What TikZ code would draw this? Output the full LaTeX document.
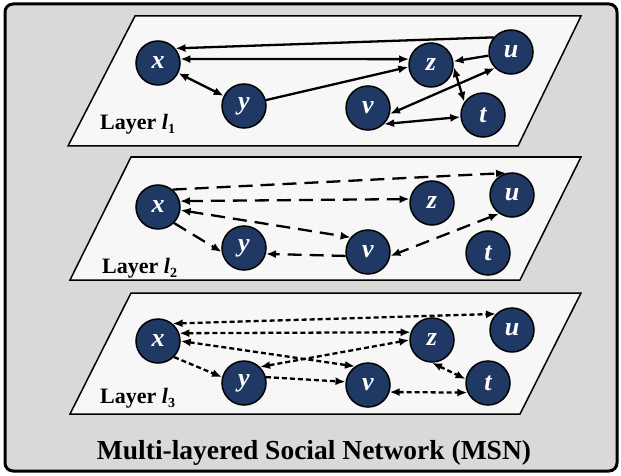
\documentclass[tikz,border=0pt]{standalone}
\usepackage{fontspec}
\setmainfont{Liberation Serif}
\usetikzlibrary{arrows.meta}
\definecolor{nodeblue}{RGB}{31,56,100}
\definecolor{framegray}{RGB}{217,217,217}
\definecolor{layerwhite}{RGB}{247,247,247}
\newcommand{\layerof}[1]{Layer \textit{l}\raisebox{-4pt}{\fontsize{14}{14}\selectfont #1}}
\tikzset{
    user/.style={circle, draw=black, line width=1.5pt, fill=nodeblue, minimum size=44pt, inner sep=0pt,
        text=white, font=\fontsize{26}{26}\selectfont\bfseries\itshape},
    plane/.style={draw=black, line width=1.5pt, fill=layerwhite},
    link/.style={line width=2.3pt, >={Latex[length=10pt,width=8pt]}},
    dashlink/.style={link, dash pattern=on 14pt off 8pt},
    dotlink/.style={link, dash pattern=on 5pt off 3pt},
    layername/.style={anchor=base west, inner sep=0pt, font=\fontsize{22}{22}\selectfont\bfseries},
}
\begin{document}
\begin{tikzpicture}[x=1pt, y=-1pt]
    \useasboundingbox (0, 0) rectangle (621, 476);
    \draw[rounded corners=8pt, line width=3pt, fill=framegray] (5, 4) rectangle (617, 471);
    % layer planes
    \draw[plane] (135, 16) -- (581, 16) -- (518, 146) -- (68, 146) -- cycle;
    \draw[plane] (131, 157) -- (581, 157) -- (520, 280) -- (70, 280) -- cycle;
    \draw[plane] (131, 293) -- (581, 293) -- (520, 414) -- (70, 414) -- cycle;
    \node[layername] (name1) at (100, 130) {\layerof{1}};
    \node[layername] (name2) at (102, 273) {\layerof{2}};
    \node[layername] (name3) at (100, 403) {\layerof{3}};

    % layer 1
    \node[user] (x1) at (158, 63) {x};
    \node[user] (y1) at (244, 106) {y};
    \node[user] (z1) at (431, 65) {z};
    \node[user] (u1) at (511, 52) {u};
    \node[user] (v1) at (368, 108) {v};
    \node[user] (t1) at (483, 115) {t};
    \draw[link, ->] (u1.140) -- (x1.40);
    \draw[link, <->] (x1.10) -- (z1.165);
    \draw[link, <->] (x1) -- (y1);
    \draw[link, ->] (y1.15) -- (z1.185);
    \draw[link, ->] (u1) -- (z1);
    \draw[link, <->] (z1.-5) -- (t1.145);
    \draw[link, <->] (u1.225) -- (v1.-15);
    \draw[link, <->] (v1.-45) -- (t1.185);

    % layer 2
    \node[user] (x2) at (158, 207) {x};
    \node[user] (y2) at (244, 248) {y};
    \node[user] (z2) at (432, 203) {z};
    \node[user] (u2) at (512, 195) {u};
    \node[user] (v2) at (368, 252) {v};
    \node[user] (t2) at (488, 253) {t};
    \draw[dashlink, ->] (x2.50) -- (u2.105);
    \draw[dashlink, <->] (x2.15) -- (z2.170);
    \draw[dashlink, <->] (x2.-8) -- (v2.140);
    \draw[dashlink, ->] (x2.-45) -- (y2.190);
    \draw[dashlink, ->] (v2.190) -- (y2.-15);
    \draw[dashlink, <->] (u2.235) -- (v2.-10);

    % layer 3
    \node[user] (x3) at (158, 341) {x};
    \node[user] (y3) at (244, 383) {y};
    \node[user] (z3) at (432, 340) {z};
    \node[user] (u3) at (512, 330) {u};
    \node[user] (v3) at (368, 385) {v};
    \node[user] (t3) at (488, 383) {t};
    \draw[dotlink, <->] (x3.50) -- (u3.135);
    \draw[dotlink, <->] (x3.20) -- (z3.160);
    \draw[dotlink, <->] (x3.0) -- (v3.125);
    \draw[dotlink, <->] (z3.180) -- (y3.45);
    \draw[dotlink, ->] (x3.-45) -- (y3.165);
    \draw[dotlink, ->] (y3.15) -- (v3.172);
    \draw[dotlink, <->] (z3.-90) -- (t3.170);
    \draw[dotlink, <->] (v3.-18) -- (t3.205);

    \node[anchor=base, inner sep=0pt, font=\fontsize{27.5}{27.5}\selectfont\bfseries] (title) at (314, 459)
        {Multi-layered Social Network (MSN)};
\end{tikzpicture}
\end{document}
